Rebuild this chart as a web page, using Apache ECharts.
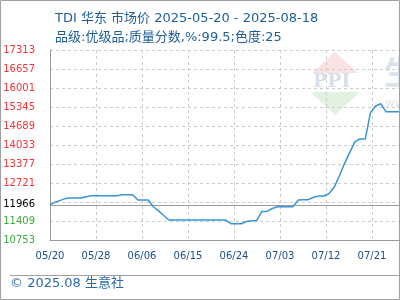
<!DOCTYPE html>
<html><head><meta charset="utf-8">
<script src="https://cdn.jsdelivr.net/npm/echarts@6/dist/echarts.min.js"></script>
<style>html,body{margin:0;padding:0;background:#fff}#c{width:400px;height:300px}</style>
</head><body><div id="c"></div>
<script>
const titleLine1 = 'TDI 华东 市场价 2025-05-20 - 2025-08-18';
const titleLine2 = '品级:优级品;质量分数,%:99.5;色度:25';
const footerText = '© 2025.08 生意社';
const startDate = '2025-05-20';
const xTickStepDays = 8.9;
const xAxisSpanDays = 89;
const yMin = 10753;
const yMax = 17313;
const yStep = 656;

const dates = [
 '2025-05-20','2025-05-21','2025-05-22','2025-05-23','2025-05-24','2025-05-25','2025-05-26','2025-05-27','2025-05-28','2025-05-29','2025-05-30','2025-05-31',
 '2025-06-01','2025-06-02','2025-06-03','2025-06-04','2025-06-05','2025-06-06','2025-06-07','2025-06-08','2025-06-09','2025-06-10',
 '2025-06-11','2025-06-12','2025-06-13','2025-06-14','2025-06-15','2025-06-16','2025-06-17','2025-06-18','2025-06-19','2025-06-20',
 '2025-06-21','2025-06-22','2025-06-23','2025-06-24','2025-06-25','2025-06-26','2025-06-27','2025-06-28','2025-06-29','2025-06-30',
 '2025-07-01','2025-07-02','2025-07-03','2025-07-04','2025-07-05','2025-07-06','2025-07-07','2025-07-08','2025-07-09','2025-07-10',
 '2025-07-11','2025-07-12','2025-07-13','2025-07-14','2025-07-15','2025-07-16','2025-07-17','2025-07-18','2025-07-19','2025-07-20',
 '2025-07-21','2025-07-22','2025-07-23','2025-07-24','2025-07-25','2025-07-26','2025-07-27'
];
const prices = [
 11966,12060,12120,12190,12203,12203,12203,12245,12283,12283,12283,12283,
 12283,12283,12317,12317,12317,12134,12134,12134,11900,11760,
 11600,11443,11443,11443,11443,11443,11443,11443,11443,11443,
 11443,11443,11443,11316,11316,11316,11390,11419,11430,11741,
 11741,11840,11903,11903,11903,11903,12130,12145,12145,12230,
 12272,12272,12360,12580,12970,13400,13780,14150,14240,14240,
 15150,15380,15459,15183,15183,15183,15183
];

const DAY = 86400000;
const t0 = Date.parse(startDate + 'T00:00:00Z');
const dayOffset = d => (Date.parse(d + 'T00:00:00Z') - t0) / DAY;
const seriesData = dates.map((d, i) => [dayOffset(d), prices[i]]);
const basePrice = prices[0];
const pad = n => (n < 10 ? '0' : '') + n;
const fmtDay = v => { const dt = new Date(t0 + Math.floor(v + 1e-6) * DAY); return pad(dt.getUTCMonth() + 1) + '/' + pad(dt.getUTCDate()); };

const FONT = '"DejaVu Sans", "Noto Sans CJK SC", sans-serif';
const chart = echarts.init(document.getElementById('c'), null, {renderer: 'canvas'});
chart.setOption({
  animation: false,
  backgroundColor: '#fff',
  title: [
    {text: titleLine1, left: 50, top: 7, textStyle: {fontSize: 13, fontWeight: 'normal', color: '#1d5e98', fontFamily: FONT}},
    {text: titleLine2, left: 50, top: 26, textStyle: {fontSize: 13, fontWeight: 'normal', color: '#1d5e98', fontFamily: FONT}}
  ],
  grid: {left: 50, top: 50, width: 460, height: 190, containLabel: false, outerBoundsMode: 'none'},
  xAxis: {
    type: 'value', min: 0, max: xAxisSpanDays, interval: xTickStepDays,
    axisLine: {show: true, lineStyle: {color: '#999', width: 1}},
    axisTick: {show: false},
    axisLabel: {formatter: fmtDay, color: '#1b4f80', fontSize: 10, fontFamily: FONT, margin: 11, showMaxLabel: false},
    splitLine: {show: true, lineStyle: {color: '#ccc', type: [3, 3], width: 1}}
  },
  yAxis: {
    type: 'value', min: yMin, max: yMax, interval: yStep,
    axisLine: {show: true, lineStyle: {color: '#999', width: 1}},
    axisTick: {show: false},
    axisLabel: {
      margin: 15, fontSize: 10, fontFamily: FONT,
      formatter: v => (Math.abs(v - basePrice) < yStep / 2 ? '' : String(Math.round(v))),
      color: v => (Number(v) > basePrice ? '#f03535' : '#3cae3c')
    },
    splitLine: {show: true, lineStyle: {color: '#ccc', type: [3, 3], width: 1}}
  },
  series: [{
    type: 'line', data: seriesData, showSymbol: false, symbol: 'none',
    lineStyle: {color: '#3a94d6', width: 1.5}, z: 5,
    markLine: {
      silent: true, symbol: 'none', animation: false,
      data: [{yAxis: basePrice}],
      lineStyle: {color: '#999', type: 'solid', width: 1},
      label: {show: true, position: 'start', distance: 15, formatter: String(basePrice), color: '#000', fontSize: 10, fontFamily: FONT}
    }
  }],
  graphic: [
    {type: 'rect', z: 100, silent: true, shape: {x: 0.5, y: 0.5, width: 399, height: 299}, style: {fill: 'none', stroke: '#a0a0a0', lineWidth: 1}},
    {type: 'line', z: 100, silent: true, shape: {x1: 10, y1: 275.5, x2: 400, y2: 275.5}, style: {stroke: '#a0a0a0', lineWidth: 1}},
    {type: 'text', z: 100, silent: true, left: 10, top: 277, style: {text: footerText, fill: '#2a6aa8', font: '13px ' + FONT}},
    {type: 'polygon', z: -10, silent: true, shape: {points: [[335, 52], [312, 73], [358, 73]]}, style: {fill: '#f9e2e2'}},
    {type: 'polygon', z: -10, silent: true, shape: {points: [[311, 92], [360, 92], [335, 115]]}, style: {fill: '#e1f2e1'}},
    {type: 'text', z: -10, silent: true, x: 313, y: 73, style: {text: 'PPI', fill: '#d8dfeb', font: 'bold 19px "DejaVu Serif", serif'}},
    {type: 'text', z: -10, silent: true, x: 384, y: 56, style: {text: '生意社', fill: '#dde3ec', font: 'bold 32px "Noto Sans CJK SC", sans-serif'}},
    {type: 'text', z: -10, silent: true, x: 385, y: 98, style: {text: 'www.100ppi.com', fill: '#e3e3e3', font: '12px "DejaVu Sans", sans-serif'}}
  ]
});
</script></body></html>
